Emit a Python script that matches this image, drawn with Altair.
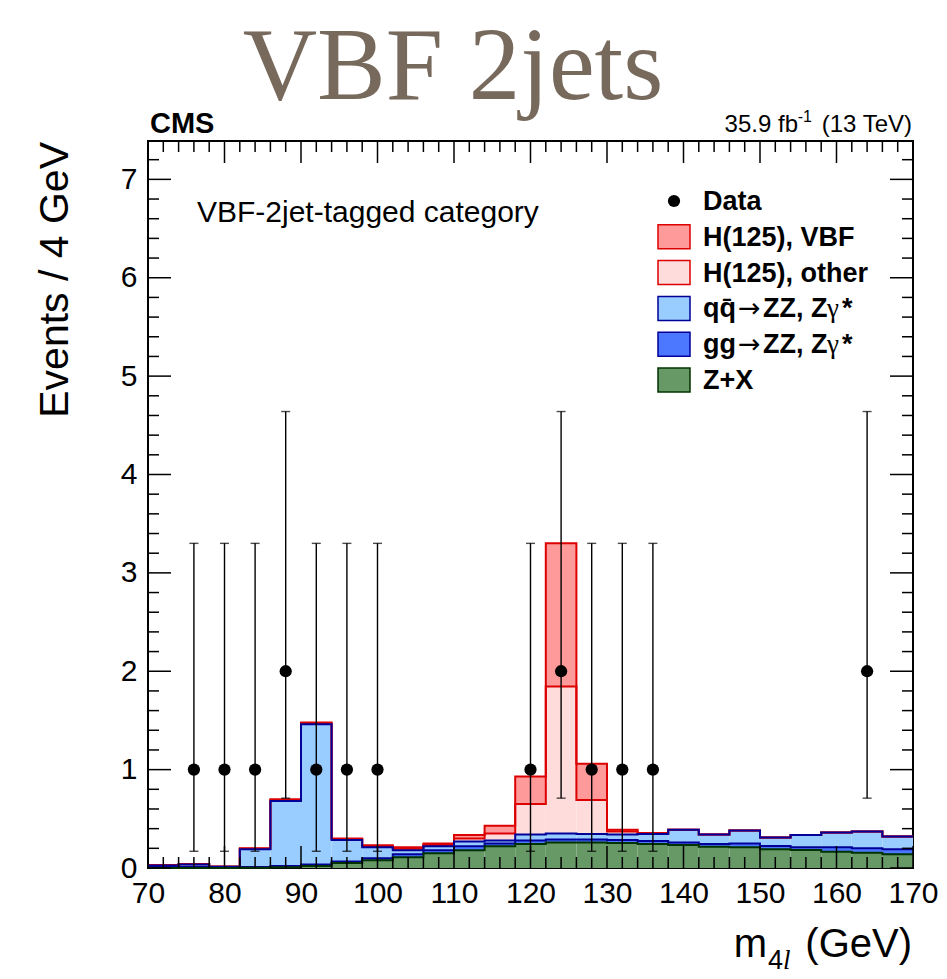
import altair as alt
import pandas as pd

# ---------------- data ----------------
bin_lo = list(range(70, 170, 4))          # 25 bins of 4 GeV
bin_width = 4

# per-process contributions (events / 4 GeV), stacked bottom -> top
zx      = [0.0, 0.0, 0.0, 0.003, 0.008, 0.02, 0.05, 0.08, 0.11, 0.15, 0.18, 0.22, 0.245,
           0.26, 0.26, 0.255, 0.244, 0.234, 0.217, 0.21, 0.19, 0.183, 0.166, 0.156, 0.14]
gg      = [0.01, 0.01, 0.005, 0.007, 0.012, 0.015, 0.015, 0.02, 0.03, 0.03, 0.04, 0.03, 0.035,
           0.03, 0.03, 0.03, 0.031, 0.026, 0.027, 0.04, 0.034, 0.027, 0.044, 0.044, 0.05]
qq      = [0.015, 0.025, 0.007, 0.18, 0.66, 1.425, 0.22, 0.11, 0.04, 0.04, 0.05, 0.03, 0.06,
           0.06, 0.055, 0.055, 0.07, 0.13, 0.096, 0.13, 0.086, 0.125, 0.15, 0.17, 0.13]
h_other = [0.003, 0.003, 0.001, 0.005, 0.01, 0.01, 0.01, 0.01, 0.015, 0.015, 0.03, 0.07, 0.31,
           1.495, 0.345, 0.03, 0.005, 0, 0, 0, 0, 0, 0, 0, 0]
h_vbf   = [0.002, 0.002, 0.002, 0.005, 0.01, 0.01, 0.005, 0.01, 0.015, 0.015, 0.035, 0.08, 0.28,
           1.455, 0.37, 0.02, 0.005, 0, 0, 0, 0, 0, 0, 0, 0]

data_x  = [76, 80, 84, 88, 92, 96, 100, 120, 124, 128, 132, 136, 164]
data_n  = [1, 1, 1, 2, 1, 1, 1, 1, 2, 1, 1, 1, 2]
err_lo  = [0.17, 0.17, 0.17, 0.71, 0.17, 0.17, 0.17, 0.17, 0.71, 0.17, 0.17, 0.17, 0.71]
err_hi  = [3.30, 3.30, 3.30, 4.64, 3.30, 3.30, 3.30, 3.30, 4.64, 3.30, 3.30, 3.30, 4.64]

proc_names  = ["Z+X", "gg→ZZ, Zγ*", "qq̄→ZZ, Zγ*", "H(125), other", "H(125), VBF"]
proc_values = [zx, gg, qq, h_other, h_vbf]
fill_colors = ["#669966", "#4b78ff", "#99ccff", "#ffdcdc", "#ff9a9a"]
line_colors = ["#003300", "#000099", "#000099", "#dd0000", "#dd0000"]

# legend rows, each as text pieces: (text, x offset, font, weight)
legend_rows = [
    [("Data", 0, "Liberation Sans", "bold")],
    [("H(125), VBF", 0, "Liberation Sans", "bold")],
    [("H(125), other", 0, "Liberation Sans", "bold")],
    [("qq̄", 0, "Liberation Sans", "bold"), ("→", 35, "DejaVu Sans", "normal"),
     ("ZZ, Z", 60, "Liberation Sans", "bold"), ("γ", 124, "Liberation Serif", "normal"),
     ("*", 139, "Liberation Sans", "bold")],
    [("gg", 0, "Liberation Sans", "bold"), ("→", 35, "DejaVu Sans", "normal"),
     ("ZZ, Z", 60, "Liberation Sans", "bold"), ("γ", 124, "Liberation Serif", "normal"),
     ("*", 139, "Liberation Sans", "bold")],
    [("Z+X", 0, "Liberation Sans", "bold")],
]

x_major = list(range(70, 171, 10))
x_minor = [v for v in range(70, 171, 2) if v % 10]
y_major = list(range(0, 8))
y_minor = [round(i * 0.2, 1) for i in range(0, 37) if i % 5]

# ---------------- geometry ----------------
W, H = 765, 727
XMIN, XMAX, YMAX = 70, 170, 7.39
FONT = "Liberation Sans"

xs = alt.Scale(domain=[XMIN, XMAX], nice=False, zero=False)
ys = alt.Scale(domain=[0, YMAX], nice=False, zero=False)
xaxis = alt.Axis(values=x_major, title=None, ticks=False, tickSize=0, domain=False,
                 grid=False, labelFontSize=30, labelFont=FONT, labelColor="black",
                 labelPadding=10, labelFlush=False, labelOverlap=False)
yaxis = alt.Axis(values=y_major, title=None, ticks=False, tickSize=0, domain=False,
                 grid=False, labelFontSize=30, labelFont=FONT, labelColor="black",
                 labelPadding=11, labelFlush=False, labelOverlap=False)

def X(f):
    return alt.X(f, scale=xs, axis=xaxis, title=None)

def Y(f):
    return alt.Y(f, scale=ys, axis=yaxis, title=None)

# ---------------- tables ----------------
band_rows, line_rows = [], []
cum_prev = [0.0] * len(bin_lo)
for name, vals in zip(proc_names, proc_values):
    cum = [a + b for a, b in zip(cum_prev, vals)]
    for i, lo in enumerate(bin_lo):
        band_rows.append(dict(proc=name, x=lo, x2=lo + bin_width, y=cum_prev[i], y2=cum[i]))
    for i, lo in enumerate(bin_lo):
        line_rows.append(dict(proc=name, x=lo, y=cum[i], o=i))
    line_rows.append(dict(proc=name, x=bin_lo[-1] + bin_width, y=cum[-1], o=len(bin_lo)))
    cum_prev = cum
bands = pd.DataFrame(band_rows)
lines = pd.DataFrame(line_rows)
pts = pd.DataFrame(dict(x=data_x, n=data_n, lo=err_lo, hi=err_hi))

color_fill = alt.Scale(domain=proc_names, range=fill_colors)

layers = []

# stacked fills
layers.append(
    alt.Chart(bands).mark_rect(strokeWidth=0).encode(
        x=X("x:Q"), x2="x2:Q", y=Y("y:Q"), y2="y2:Q",
        color=alt.Color("proc:N", scale=color_fill, legend=None),
    )
)

# outlines, top process first so lower outlines end on top
for name, lc in reversed(list(zip(proc_names, line_colors))):
    layers.append(
        alt.Chart(lines[lines.proc == name]).mark_line(
            interpolate="step-after", color=lc, strokeWidth=2
        ).encode(x=X("x:Q"), y=Y("y:Q"), order="o:Q")
    )

# data with error bars
layers.append(
    alt.Chart(pts).mark_rule(color="black", strokeWidth=1.4).encode(
        x=X("x:Q"), y=Y("lo:Q"), y2="hi:Q")
)
for col in ["lo", "hi"]:
    layers.append(
        alt.Chart(pts).mark_tick(orient="horizontal", size=9, thickness=1.4, color="black").encode(
            x=X("x:Q"), y=Y(f"{col}:Q"))
    )
layers.append(
    alt.Chart(pts).mark_circle(size=150, color="black", opacity=1).encode(
        x=X("x:Q"), y=Y("n:Q"))
)

# ticks (inward, on all four sides)
def xticks(vals, length):
    d = pd.DataFrame(dict(v=vals))
    b = alt.Chart(d).mark_rule(color="black", strokeWidth=1.5).encode(
        x=X("v:Q"), y=alt.value(H), y2=alt.value(H - length))
    t = alt.Chart(d).mark_rule(color="black", strokeWidth=1.5).encode(
        x=X("v:Q"), y=alt.value(0), y2=alt.value(length))
    return [b, t]

def yticks(vals, length):
    d = pd.DataFrame(dict(v=vals))
    l = alt.Chart(d).mark_rule(color="black", strokeWidth=1.5).encode(
        y=Y("v:Q"), x=alt.value(0), x2=alt.value(length))
    r = alt.Chart(d).mark_rule(color="black", strokeWidth=1.5).encode(
        y=Y("v:Q"), x=alt.value(W), x2=alt.value(W - length))
    return [l, r]

layers += xticks(x_major, 22) + xticks(x_minor, 11) + yticks(y_major, 23) + yticks(y_minor, 11)

# texts
def txt(text, x, y, size, **kw):
    kw.setdefault("font", FONT)
    return alt.Chart(pd.DataFrame(dict(t=[text]))).mark_text(fontSize=size, **kw).encode(
        text="t:N", x=alt.value(x), y=alt.value(y))

layers.append(txt("VBF 2jets", 305, -42, 103, font="Liberation Serif", color="#776a5d",
                  align="center", baseline="alphabetic"))
layers.append(txt("CMS", 2, -8, 29, fontWeight="bold", align="left", baseline="alphabetic"))
layers.append(txt("(13 TeV)", 764, -9, 24, align="right", baseline="alphabetic"))
layers.append(txt("-1", 664, -19, 16, align="right", baseline="alphabetic"))
layers.append(txt("35.9 fb", 650, -9, 24, align="right", baseline="alphabetic"))
layers.append(txt("VBF-2jet-tagged category", 49, 81, 30, align="left", baseline="alphabetic"))
layers.append(txt("Events / 4 GeV", -80, 1, 41, angle=270, align="right", baseline="alphabetic"))
layers.append(txt("(GeV)", 764, 816, 40, align="right", baseline="alphabetic"))
layers.append(txt("m", 619, 816, 40, align="right", baseline="alphabetic"))
layers.append(txt("4", 620, 828, 27, align="left", baseline="alphabetic"))
layers.append(txt("l", 635, 828, 27, font="Liberation Serif", fontStyle="italic",
                  align="left", baseline="alphabetic"))

# legend
leg_y0, leg_dy = 60, 35.8
leg_fill = ["black"] + list(reversed(fill_colors))
leg_line = ["black"] + list(reversed(line_colors))
for i, pieces in enumerate(legend_rows):
    yc = leg_y0 + i * leg_dy
    d = pd.DataFrame(dict(t=["row"]))
    if i == 0:
        layers.append(alt.Chart(d).mark_circle(size=150, color="black", opacity=1).encode(
            x=alt.value(526), y=alt.value(yc)))
    else:
        layers.append(alt.Chart(d).mark_rect(fill=leg_fill[i], stroke=leg_line[i], strokeWidth=1.5).encode(
            x=alt.value(510), x2=alt.value(542), y=alt.value(yc - 12), y2=alt.value(yc + 12)))
    for text, dx, fnt, wt in pieces:
        layers.append(txt(text, 555 + dx, yc + 1, 27, font=fnt, fontWeight=wt,
                          align="left", baseline="middle"))

chart = alt.layer(*layers).properties(
    width=W, height=H,
    autosize=alt.AutoSizeParams(type="none"),
    padding={"left": 148, "top": 141, "right": 34, "bottom": 111},
    background="white",
).configure_view(stroke="black", strokeWidth=2)

chart.save("out.html", embed_options={"renderer": "svg", "actions": False})
